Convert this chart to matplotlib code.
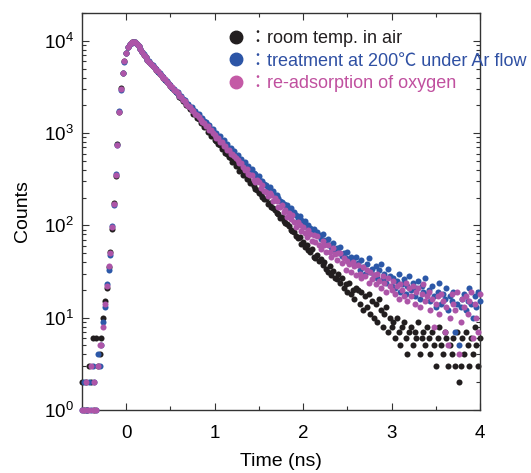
import numpy as np
import matplotlib
matplotlib.use('Agg')
import matplotlib.pyplot as plt
from matplotlib.lines import Line2D
from matplotlib.font_manager import FontProperties
from matplotlib.ticker import MultipleLocator, LogLocator, NullFormatter

plt.rcParams['font.family'] = 'Liberation Sans'
plt.rcParams['mathtext.default'] = 'regular'

# TCSPC channel grid
bin_width_ns = 0.02
t_start_ns = -0.5

# room temp. in air (black)
counts_air = [
    2, 1, 2, 1, 3, 2, 6, 1, 6, 3, 4,
    6, 10, 15, 21, 35, 52, 92, 175, 345, 760, 1680, 3050, 4480, 6050, 7380, 8520, 9210, 9620, 9780, 9690,
    9270, 8730, 8100, 7610, 7040, 6660, 6170,
    5870, 5640, 5310, 5110, 4810, 4630, 4350, 4200, 3940, 3800, 3570, 3400, 3250, 3060, 2950, 2770, 2670, 2490, 2420, 2240,
    2180, 2010, 1970, 1810, 1770, 1620, 1590, 1450, 1420, 1300,
    1280, 1160, 1150, 1040, 1030, 940, 925, 845, 830, 755,
    745, 680, 670, 610, 600, 545, 540, 490, 488, 440,
    438, 392, 396, 350, 355, 315, 318, 285,
    286, 266, 250, 241, 226, 220, 205, 193, 194, 171,
    176, 158, 153, 146, 136, 132, 121, 123, 111, 106,
    104, 98, 90, 86, 84, 77, 73, 74, 63, 66,
    58, 62, 54, 51, 55, 46, 44, 48, 41, 43,
    37, 40, 34, 31, 36, 29, 32, 27, 26, 30,
    24, 27, 21, 23, 19, 24, 18, 20, 16, 21,
    20, 14, 19, 12, 17, 13, 18, 11, 15, 10, 14, 9, 16, 12, 8, 11, 13, 7, 10, 8,
    9, 6, 10, 7, 5, 8, 9, 6, 4, 7, 8, 5, 7, 6, 9, 4, 6, 7, 5, 8,
    6, 4, 7, 5, 3, 6, 8, 5, 4, 7, 6, 3, 5, 4, 6, 3, 7, 2, 3, 6,
    4, 7, 5, 3, 6, 4, 8, 5, 3, 6,
]

# treatment at 200 C under Ar flow (blue)
counts_ar = [
    1, 2, 1, 1, 2, 1, 3, 2, 1, 4, 3,
    5, 9, 13, 23, 33, 48, 98, 168, 360, 735, 1730, 2960, 4530, 5950, 7420, 8470, 9170, 9580, 9720, 9660,
    9250, 8690, 8170, 7560, 7130, 6610, 6240,
    5990, 5650, 5430, 5100, 4930, 4620, 4470, 4190, 4060, 3800, 3690, 3440, 3340, 3110, 3040, 2820, 2760, 2550, 2500, 2320,
    2270, 2120, 2090, 1940, 1910, 1770, 1750, 1610, 1600, 1470,
    1460, 1340, 1330, 1210, 1220, 1100, 1110, 1000, 1010, 905,
    920, 830, 840, 750, 765, 690, 695, 620, 635, 570,
    580, 520, 530, 470, 485, 430, 440, 390,
    405, 366, 361, 333, 340, 303, 300, 283, 276, 252,
    262, 235, 234, 212, 213, 200, 186, 181, 170, 168,
    166, 146, 155, 137, 139, 128, 119, 125, 115, 104,
    112, 95, 102, 94, 87, 92, 80, 85, 79, 72,
    80, 69, 66, 72, 61, 59, 64, 54, 57, 52,
    58, 47, 50, 44, 52, 41, 45, 43, 38, 46,
    39, 33, 42, 35, 30, 38, 44, 31, 34, 29, 36, 27, 33, 38, 26, 30, 24, 34, 28, 22,
    27, 21, 25, 30, 19, 23, 26, 18, 22, 28, 20, 24, 17, 21, 25, 16, 22, 19, 27, 18,
    20, 15, 22, 17, 13, 19, 24, 14, 18, 16, 21, 12, 17, 15, 19, 7, 14, 5, 13, 16,
    18, 12, 15, 21, 14, 10, 17, 13, 19, 15,
]

# re-adsorption of oxygen (purple)
counts_reox = [
    1, 1, 2, 1, 1, 3, 1, 2, 1, 3, 5,
    5, 8, 14, 22, 36, 50, 95, 172, 352, 745, 1700, 3010, 4490, 6010, 7350, 8490, 9190, 9600, 9740, 9680,
    9190, 8760, 8080, 7640, 7010, 6690, 6150,
    5950, 5560, 5330, 5120, 4800, 4650, 4350, 4200, 3960, 3820,
    3580, 3440, 3240, 3130, 2930, 2840, 2700, 2520, 2450, 2290,
    2230, 2070, 1980, 1920, 1790, 1740, 1610, 1580, 1500, 1400,
    1330, 1300, 1200, 1180, 1090, 1070, 990, 960, 890, 880,
    800, 795, 730, 720, 660, 650, 600, 590, 560, 540,
    510, 470, 470, 430, 400, 405, 360, 350,
    354, 308, 298, 311, 293, 254, 271, 236, 228, 208,
    227, 211, 185, 200, 182, 158, 160, 167, 139, 148,
    124, 137, 117, 129, 109, 97, 110, 100, 86, 96,
    82, 74, 89, 80, 68, 79, 66, 76, 61, 56,
    67, 61, 51, 62, 52, 45, 57, 49, 42, 50,
    50, 39, 44, 33, 41, 38, 31, 40, 36, 29,
    37, 30, 27, 35, 28, 33, 24, 31, 26, 29,
    23, 30, 25, 21, 28, 24, 19, 27, 22, 20,
    25, 18, 22, 16, 23, 20, 17, 24, 15, 21,
    17, 22, 14, 19, 21, 13, 18, 23, 15, 17,
    19, 12, 16, 8, 14, 17, 11, 18, 15, 7,
    13, 5, 10, 18, 14, 12, 19, 4, 9, 16,
    13, 17, 11, 15, 19, 6, 14, 10, 7, 18,
]

series_labels = ['：room temp. in air',
                 '：treatment at 200℃ under Ar flow',
                 '：re-adsorption of oxygen']
marker_colors = ['#221e1f', '#2c58a8', '#ad55a8']
legend_marker_colors = ['#221e1f', '#2c55a6', '#c45aa6']
text_colors = ['#231f20', '#2f50a3', '#c0509f']

x_ticks = [0, 1, 2, 3, 4]

time_ns = t_start_ns + bin_width_ns * np.arange(len(counts_air))

fig = plt.figure(figsize=(5.31, 4.73), dpi=100)
ax = fig.add_axes([82 / 531, 1 - 410 / 473, 398 / 531, 397 / 473])

for counts, col, z in zip([counts_air, counts_ar, counts_reox], marker_colors, [2, 3, 4]):
    ax.scatter(time_ns[:len(counts)], counts, s=19, c=col, linewidths=0,
               clip_on=False, zorder=z)

ax.set_yscale('log')
ax.set_xlim(-0.5, 4.0)
ax.set_ylim(1, 2e4)
ax.set_xticks(x_ticks)
ax.xaxis.set_minor_locator(MultipleLocator(0.5))
ax.yaxis.set_major_locator(LogLocator(base=10, numticks=10))
ax.yaxis.set_minor_locator(LogLocator(base=10, subs=np.arange(2, 10), numticks=20))
ax.yaxis.set_minor_formatter(NullFormatter())

ax.tick_params(which='both', direction='in', top=True, right=True, width=0.8, color='#333333')
ax.tick_params(which='major', length=5, labelsize=13.5)
ax.tick_params(which='minor', length=3)
ax.tick_params(axis='x', which='major', pad=10.5)
ax.tick_params(axis='y', which='major', pad=6)
for sp in ax.spines.values():
    sp.set_linewidth(1.0)
    sp.set_color('#333333')

ax.set_xlabel('Time (ns)', fontsize=14, labelpad=8)
ax.set_ylabel('Counts', fontsize=14, labelpad=9)

handles = [Line2D([], [], ls='', marker='o', markersize=9,
                  markerfacecolor=c, markeredgecolor=c) for c in legend_marker_colors]
leg = fig.legend(handles, series_labels, loc='upper left',
                 bbox_to_anchor=(0.431, 0.936), frameon=False,
                 prop=FontProperties(family=['Liberation Sans', 'Noto Sans CJK JP'], size=13),
                 handlelength=0.8, handletextpad=0.3, labelspacing=0.3,
                 borderpad=0, borderaxespad=0)
for txt, c in zip(leg.get_texts(), text_colors):
    txt.set_color(c)

fig.savefig('out.png', dpi=100)
